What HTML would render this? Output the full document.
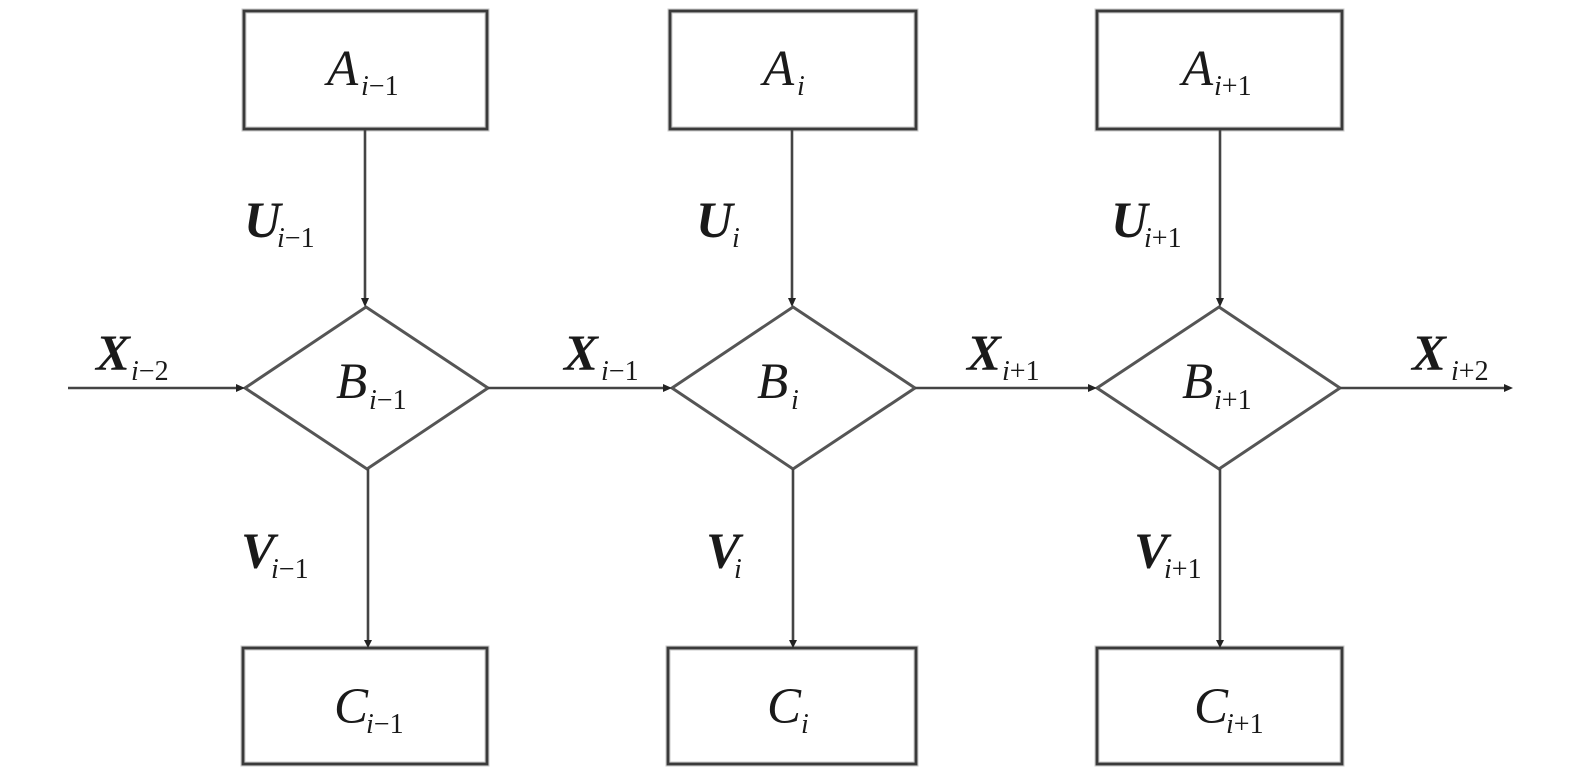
<!DOCTYPE html>
<html>
<head>
<meta charset="utf-8">
<style>
html,body{margin:0;padding:0;background:#fff;}
svg{display:block;}
text{font-family:"Liberation Serif","Times New Roman",serif;fill:#1a1a1a;}
.m{font-size:51px;font-style:italic;}
.b{font-size:51px;font-style:italic;font-weight:bold;}
.s{font-size:28px;}
.it{font-style:italic;}
</style>
</head>
<body>
<svg width="1575" height="768" viewBox="0 0 1575 768" xmlns="http://www.w3.org/2000/svg">
<g fill="none" stroke="#c8c8c8" stroke-width="5">
  <rect x="244" y="11" width="243" height="118"/>
  <rect x="670" y="11" width="246" height="118"/>
  <rect x="1097" y="11" width="245" height="118"/>
  <rect x="243" y="648" width="244" height="116"/>
  <rect x="668" y="648" width="248" height="116"/>
  <rect x="1097" y="648" width="245" height="116"/>
</g>
<g fill="none" stroke="#3a3a3a" stroke-width="2.8">
  <rect x="244" y="11" width="243" height="118"/>
  <rect x="670" y="11" width="246" height="118"/>
  <rect x="1097" y="11" width="245" height="118"/>
  <rect x="243" y="648" width="244" height="116"/>
  <rect x="668" y="648" width="248" height="116"/>
  <rect x="1097" y="648" width="245" height="116"/>
</g>
<!-- diamonds -->
<g fill="none" stroke="#555" stroke-width="3" stroke-linejoin="miter">
  <polygon points="366,307 488,388 367,469 245,388"/>
  <polygon points="793,307 915,388 793,469 672,388"/>
  <polygon points="1219,307 1340,388 1219,469 1097,388"/>
</g>
<!-- connectors -->
<g stroke="#444" stroke-width="2.6" fill="none">
  <line x1="365" y1="130" x2="365" y2="300"/>
  <line x1="792" y1="130" x2="792" y2="300"/>
  <line x1="1220" y1="130" x2="1220" y2="300"/>
  <line x1="368" y1="469" x2="368" y2="641"/>
  <line x1="793" y1="469" x2="793" y2="641"/>
  <line x1="1220" y1="469" x2="1220" y2="641"/>
  <line x1="68" y1="388" x2="239" y2="388"/>
  <line x1="488" y1="388" x2="666" y2="388"/>
  <line x1="915" y1="388" x2="1091" y2="388"/>
  <line x1="1340" y1="388" x2="1508" y2="388"/>
</g>
<!-- arrowheads -->
<g fill="#222">
  <polygon points="361,298 369,298 365,307"/>
  <polygon points="788,298 796,298 792,307"/>
  <polygon points="1216,298 1224,298 1220,307"/>
  <polygon points="364,640 372,640 368,648"/>
  <polygon points="789,640 797,640 793,648"/>
  <polygon points="1216,640 1224,640 1220,648"/>
  <polygon points="236,384 236,392 245,388"/>
  <polygon points="663,384 663,392 672,388"/>
  <polygon points="1088,384 1088,392 1097,388"/>
  <polygon points="1504,384 1504,392 1513,388"/>
</g>
<!-- labels: A -->
<text class="m" x="327" y="85">A</text><text class="s" x="361" y="95"><tspan class="it">i</tspan>−1</text>
<text class="m" x="763" y="85">A</text><text class="s" x="797" y="95"><tspan class="it">i</tspan></text>
<text class="m" x="1182" y="85">A</text><text class="s" x="1214" y="95"><tspan class="it">i</tspan>+1</text>
<!-- U -->
<text class="b" x="244" y="237">U</text><text class="s" x="277" y="247"><tspan class="it">i</tspan>−1</text>
<text class="b" x="696" y="237">U</text><text class="s" x="732" y="247"><tspan class="it">i</tspan></text>
<text class="b" x="1111" y="237">U</text><text class="s" x="1144" y="247"><tspan class="it">i</tspan>+1</text>
<!-- X -->
<text class="b" x="96" y="370">X</text><text class="s" x="131" y="380"><tspan class="it">i</tspan>−2</text>
<text class="b" x="564" y="370">X</text><text class="s" x="601" y="380"><tspan class="it">i</tspan>−1</text>
<text class="b" x="967" y="370">X</text><text class="s" x="1002" y="380"><tspan class="it">i</tspan>+1</text>
<text class="b" x="1412" y="370">X</text><text class="s" x="1451" y="380"><tspan class="it">i</tspan>+2</text>
<!-- B -->
<text class="m" x="336" y="398">B</text><text class="s" x="369" y="409"><tspan class="it">i</tspan>−1</text>
<text class="m" x="757" y="398">B</text><text class="s" x="791" y="409"><tspan class="it">i</tspan></text>
<text class="m" x="1182" y="398">B</text><text class="s" x="1214" y="409"><tspan class="it">i</tspan>+1</text>
<!-- V -->
<text class="b" x="241" y="568">V</text><text class="s" x="271" y="578"><tspan class="it">i</tspan>−1</text>
<text class="b" x="706" y="568">V</text><text class="s" x="734" y="578"><tspan class="it">i</tspan></text>
<text class="b" x="1134" y="568">V</text><text class="s" x="1164" y="578"><tspan class="it">i</tspan>+1</text>
<!-- C -->
<text class="m" x="334" y="723">C</text><text class="s" x="366" y="733"><tspan class="it">i</tspan>−1</text>
<text class="m" x="767" y="723">C</text><text class="s" x="801" y="733"><tspan class="it">i</tspan></text>
<text class="m" x="1194" y="723">C</text><text class="s" x="1226" y="733"><tspan class="it">i</tspan>+1</text>
</svg>
</body>
</html>
